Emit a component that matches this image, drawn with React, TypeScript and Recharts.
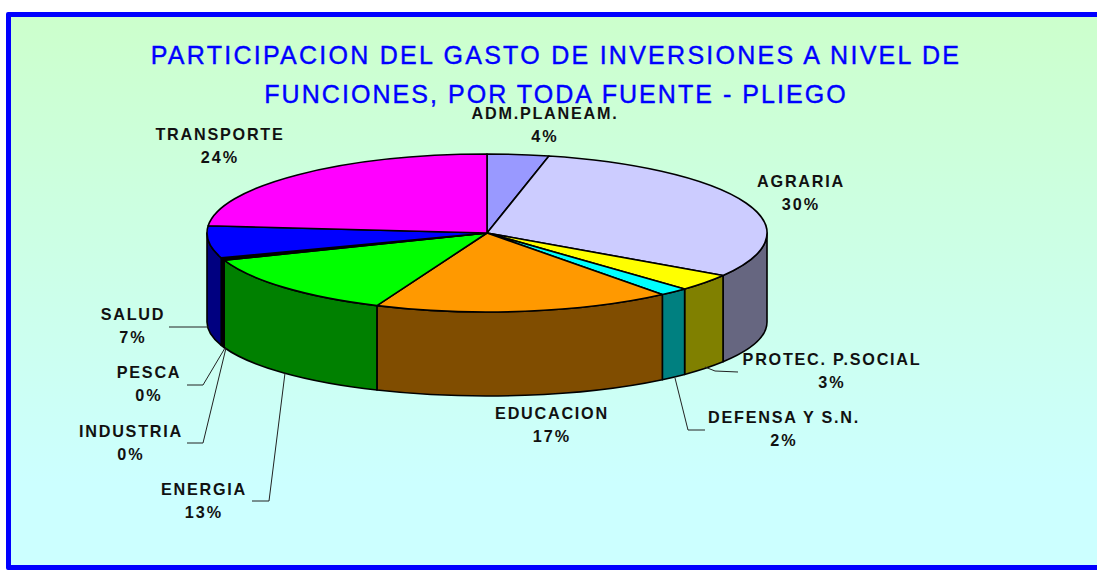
import React from "react";
import { PieChart, Pie } from "recharts";

const names = ["ADM.PLANEAM.", "AGRARIA", "PROTEC. P.SOCIAL", "DEFENSA Y S.N.", "EDUCACION", "ENERGIA", "INDUSTRIA", "PESCA", "SALUD", "TRANSPORTE"];
const values = [3.55, 30.49, 3.49, 1.7, 17.2, 12.97, 0.25, 0.25, 6.55, 23.55];
const topColors = ["#9999ff", "#ccccff", "#ffff00", "#00ffff", "#ff9900", "#00ff00", "#000000", "#000000", "#0000ff", "#ff00ff"];
const wallColors = ["#4d4d80", "#666680", "#808000", "#008080", "#804d00", "#008000", "#000000", "#000000", "#000080", "#800080"];
const titleLines = ["PARTICIPACION DEL GASTO DE INVERSIONES A NIVEL DE", "FUNCIONES, POR TODA FUENTE - PLIEGO"];

const tableData = names.map((name, i) => ({ name, value: values[i] }));
const total = values.reduce((a, b) => a + b, 0);

// layout
const W = 1097, H = 570, CX = 487, CY = 233, RX = 280, RY = 79;
const BOTTOM_CY = 322, BOTTOM_RY = 74;
const labelAt: [number, number, number][] = [
  [545, 118.5, 142], [801, 187, 210], [832, 365, 388], [784, 423, 446], [552, 419, 442],
  [204, 495, 518], [131, 437, 460], [149, 378, 401], [133, 320, 343], [220, 140, 163],
];
const leaders: Record<number, string> = {
  2: "705,367 715,371 738,372",
  3: "675,378 688,430 705,430",
  5: "285,373 269,501 252,501",
  6: "226,348 203,443 187,443",
  7: "225,348 203,385 187,385",
  8: "209,327 169,327",
};

const pt = (t: number, cy = CY, ry = RY) => {
  const r = (t * Math.PI) / 180;
  return [CX + RX * Math.sin(r), cy - ry * Math.cos(r)];
};

const TopShape = (p: any) => {
  const t0 = 90 - p.startAngle, t1 = 90 - p.endAngle;
  const [x0, y0] = pt(t0);
  const [x1, y1] = pt(t1);
  const d = `M${CX} ${CY}L${x0} ${y0}A${RX} ${RY} 0 ${t1 - t0 > 180 ? 1 : 0} 1 ${x1} ${y1}Z`;
  return <path d={d} fill={topColors[p.index]} stroke="#000" strokeWidth={1.6} strokeLinejoin="round" />;
};

const WallShape = (p: any) => {
  const t0 = Math.max(90 - p.startAngle, 90), t1 = Math.min(90 - p.endAngle, 270);
  if (t0 >= t1) return <g />;
  const [x0, y0] = pt(t0);
  const [x1, y1] = pt(t1);
  const [x2, y2] = pt(t1, BOTTOM_CY, BOTTOM_RY);
  const [x3, y3] = pt(t0, BOTTOM_CY, BOTTOM_RY);
  const d = `M${x0} ${y0}A${RX} ${RY} 0 0 1 ${x1} ${y1}L${x2} ${y2}A${RX} ${BOTTOM_RY} 0 0 0 ${x3} ${y3}Z`;
  return <path d={d} fill={wallColors[p.index]} stroke="#000" strokeWidth={1.6} strokeLinejoin="round" />;
};

const labelStyle: React.CSSProperties = { fontFamily: "'Liberation Sans', Arial, sans-serif", fontWeight: 700, fontSize: 16.2, letterSpacing: 1.75, fill: "#111" };
const titleStyle: React.CSSProperties = { fontFamily: "'Liberation Sans', Arial, sans-serif", fontSize: 25, stroke: "#0000ff", strokeWidth: 0.4 };

const renderLabel = (p: any) => {
  const i = p.index;
  const [x, y1, y2] = labelAt[i];
  return (
    <g>
      {leaders[i] && <polyline points={leaders[i]} fill="none" stroke="#222" strokeWidth={1} />}
      <text x={x} y={y1} textAnchor="middle" style={labelStyle}>{names[i]}</text>
      <text x={x} y={y2} textAnchor="middle" style={{ ...labelStyle, letterSpacing: 2 }}>{Math.round((values[i] / total) * 100)}%</text>
    </g>
  );
};

export default function App() {
  return (
    <div style={{ position: "absolute", left: 0, top: 0, width: W, height: H, overflow: "hidden", background: "#fff" }}>
      <div style={{ position: "absolute", left: 6, top: 12, width: W + 20, height: H - 12 - 10, border: "5px solid #0000ff", borderRadius: 2, background: "linear-gradient(180deg, #ccffcc 0%, #ccffff 85%)" }} />
      <div style={{ position: "absolute", left: 0, top: 0 }}>
        <PieChart width={W} height={H} margin={{ top: 0, right: 0, bottom: 0, left: 0 }}>
          <text x={556} y={64} textAnchor="middle" fill="#0000ff" style={{ ...titleStyle, letterSpacing: 2.27 }}>{titleLines[0]}</text>
          <text x={556} y={103} textAnchor="middle" fill="#0000ff" style={{ ...titleStyle, letterSpacing: 2.05 }}>{titleLines[1]}</text>
          <Pie data={tableData} dataKey="value" nameKey="name" cx={CX} cy={CY} outerRadius={RX} startAngle={90} endAngle={-270} isAnimationActive={false} shape={WallShape} label={false} labelLine={false} />
          <Pie data={tableData} dataKey="value" nameKey="name" cx={CX} cy={CY} outerRadius={RX} startAngle={90} endAngle={-270} isAnimationActive={false} shape={TopShape} label={renderLabel} labelLine={false} />
        </PieChart>
      </div>
    </div>
  );
}
